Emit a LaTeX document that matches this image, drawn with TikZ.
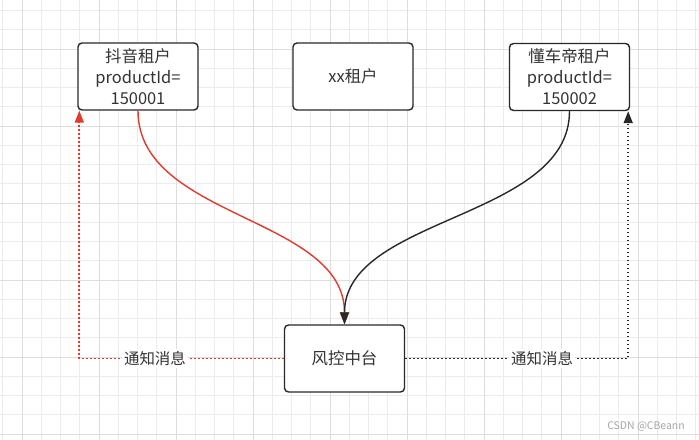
\documentclass[tikz,border=0pt]{standalone}
\usepackage{fontspec}
\setmainfont{Noto Sans CJK SC}
\usetikzlibrary{arrows.meta}
\definecolor{redc}{RGB}{226,58,46}
\definecolor{boxc}{RGB}{40,40,40}
\definecolor{textc}{RGB}{51,51,51}
\definecolor{gridminor}{RGB}{236,236,236}
\definecolor{gridmajor}{RGB}{222,222,222}
\tikzset{
  box/.style={draw=boxc, line width=1.4bp, rounded corners=4bp, fill=white,
    minimum width=120bp, minimum height=67bp, align=center, text=textc,
    font=\fontsize{16.5}{21}\selectfont, inner sep=2bp},
  flow/.style={line width=1.4bp, -{Triangle[length=12bp,width=9bp]}},
  notify/.style={line width=1.8bp, dash pattern=on 1.6bp off 2.4bp, -{Triangle[length=12bp,width=9bp]}},
  lbl/.style={fill=white, text=textc, inner sep=2bp, font=\fontsize{15.5}{18}\selectfont},
}
\begin{document}
\begin{tikzpicture}[x=1bp,y=-1bp]
\useasboundingbox (0,0) rectangle (699,440);
\fill[white] (0,0) rectangle (699,440);
% grid
\foreach \i in {0,...,36} \draw[gridminor, line width=0.9bp] (2.75+19.25*\i,0) -- (2.75+19.25*\i,440);
\foreach \j in {0,...,22} \draw[gridminor, line width=0.9bp] (0,10.5+19.25*\j) -- (699,10.5+19.25*\j);
\foreach \i in {0,...,8} \draw[gridmajor, line width=0.9bp] (22+77*\i,0) -- (22+77*\i,440);
\foreach \j in {-1,...,5} \draw[gridmajor, line width=0.9bp] (0,49+77*\j) -- (699,49+77*\j);
% nodes
\node[box] (a) at (138,76.5) {抖音租户\\productId=\\150001};
\node[box] (b) at (353,76.5) {xx租户};
\node[box] (c) at (569.5,77) {懂车帝租户\\productId=\\150002};
\node[box] (d) at (344.5,358.5) {风控中台};
\coordinate (ra) at ([xshift=2bp]a.south west);
\coordinate (rb) at ([xshift=-2bp]c.south east);
% curves
\draw[flow, redc] (a.south) .. controls +(0,108) and +(0,-108) .. (d.north);
\draw[flow, boxc] (c.south) .. controls +(0,108) and +(0,-108) .. (d.north);
% notifications
\draw[notify, redc] (d.west) -- node[lbl, pos=0.63] {通知消息} (d.west -| ra) -- (ra);
\draw[notify, boxc] (d.east) -- node[lbl, pos=0.614] {通知消息} (d.east -| rb) -- (rb);
% watermark
\node[text=black!35, font=\fontsize{10.5}{12}\selectfont, inner sep=0pt] (wm) at (646,427) {CSDN @CBeann};
\end{tikzpicture}
\end{document}
